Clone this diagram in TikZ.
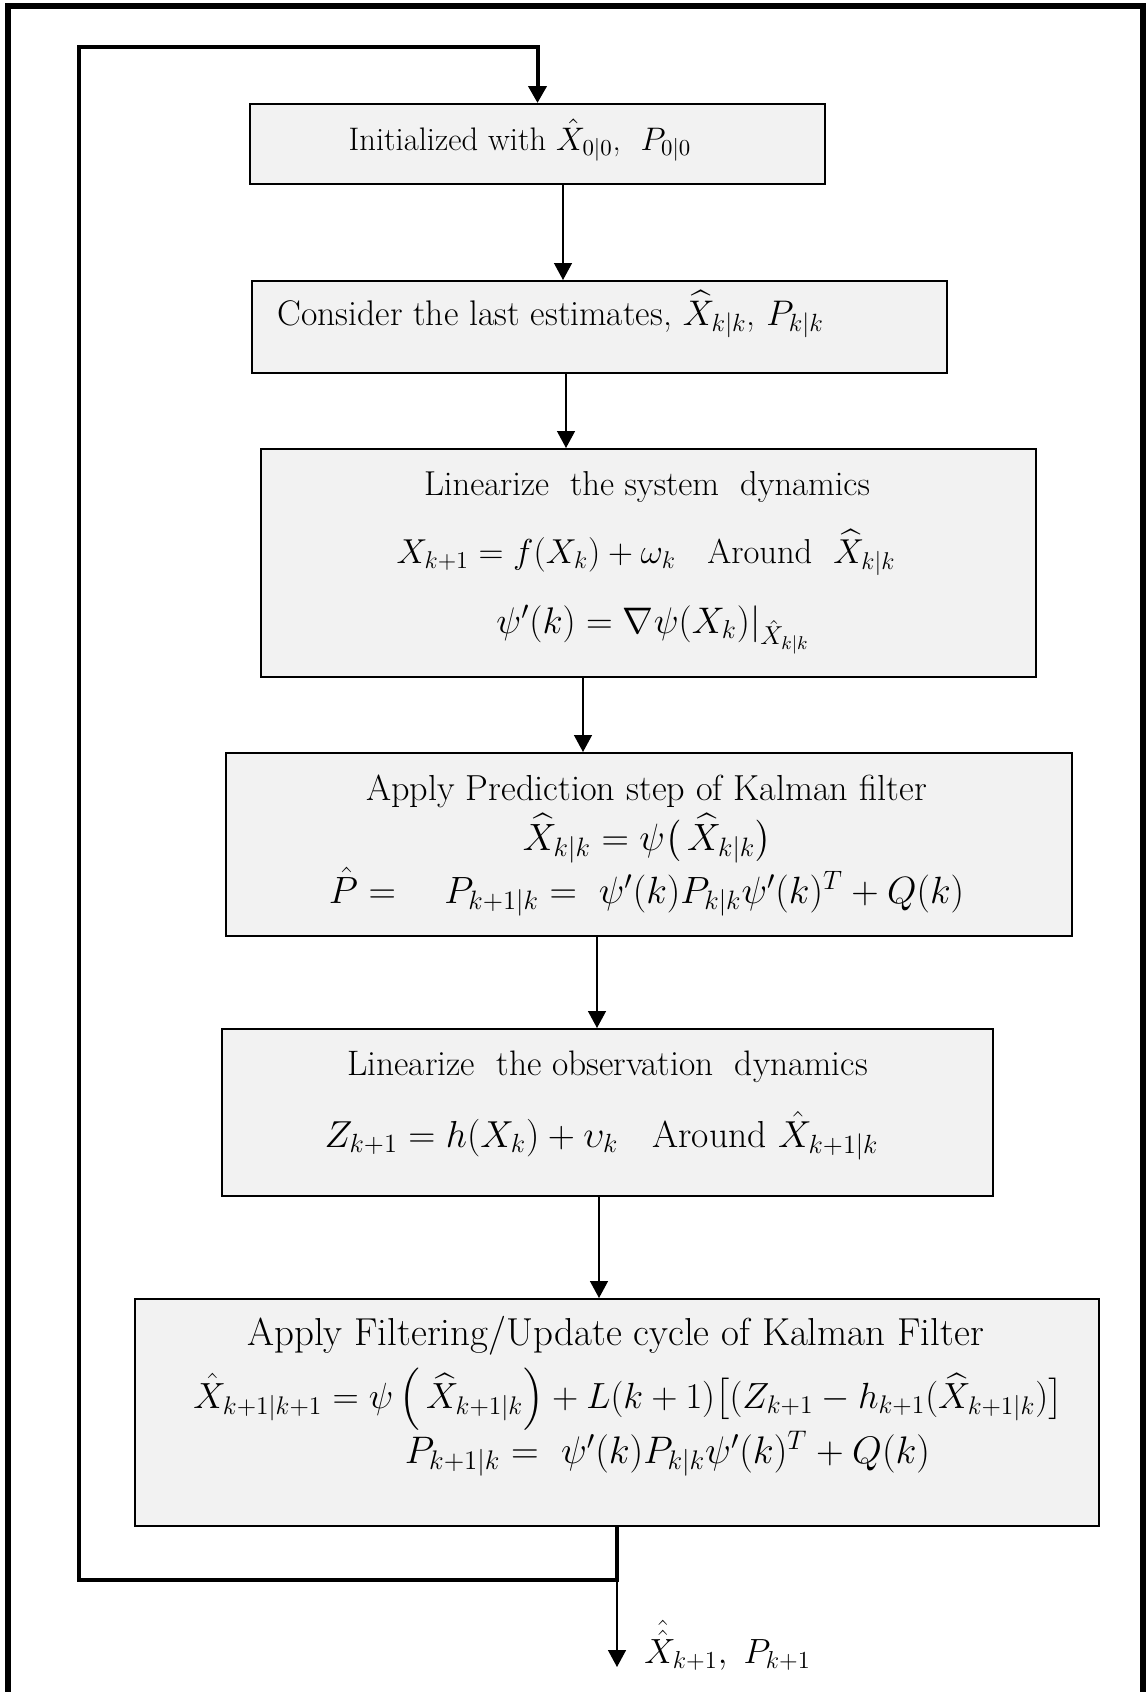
\RequirePackage{fix-cm}
\documentclass[tikz,border=0pt]{standalone}
\usepackage{amsmath}
\usepackage{fontspec}
\usetikzlibrary{arrows.meta}
\definecolor{boxfill}{HTML}{F2F2F2}

\begin{document}
\begin{tikzpicture}[x=0.5pt,y=-0.5pt,
  box/.style={draw=black, fill=boxfill, line width=1pt, inner sep=0pt},
  txt/.style={anchor=base, inner sep=0pt},
  fs/.style={font=\fontsize{#1}{20}\selectfont},
  tip/.style={-{Triangle[width=9pt,length=8.5pt]}},
  link/.style={line width=0.7pt, tip},
  loopline/.style={line width=2pt},
  frame/.style={line width=3pt}]

\useasboundingbox (0,0) rectangle (1146,1692);

% outer frame, open at the bottom
\draw[frame] (8,1692) -- (8,6) -- (1143,6) -- (1143,1692);

% process boxes
\node[box, minimum width=287.5pt, minimum height=40pt]  (b1) at (537.5,144) {};
\node[box, minimum width=347.5pt, minimum height=46pt]  (b2) at (599.5,327) {};
\node[box, minimum width=387.5pt, minimum height=114pt] (b3) at (648.5,563) {};
\node[box, minimum width=423pt,   minimum height=91.5pt] (b4) at (649,844.5) {};
\node[box, minimum width=385.5pt, minimum height=83.5pt] (b5) at (607.5,1112.5) {};
\node[box, minimum width=482pt,   minimum height=113.5pt] (b6) at (617,1412.5) {};

% box texts
\node[txt, fs=16.3] (t1) at (520,150) {Initialized with $\hat{X}_{0|0}$,\ \ $P_{0|0}$};
\node[txt, fs=17.8, anchor=base west] (t2) at (277,325) {Consider the last estimates, $\widehat{X}_{k|k}$, $P_{k|k}$};

\node[txt, fs=17.3] (t3a) at (647,495) {Linearize\ \ the system\ \ dynamics};
\node[txt, fs=17.3] (t3b) at (646,563) {$X_{k+1} = f(X_k) + \omega_k$\ \ \ Around\ \ $\widehat{X}_{k|k}$};
\node[txt, fs=18.5] (t3c) at (653,633) {$\psi'(k) = \nabla\psi(X_k)|_{\hat{X}_{k|k}}$};

\node[txt, fs=18.1] (t4a) at (646.5,800) {Apply Prediction step of Kalman filter};
\node[txt, fs=19] (t4b) at (647,850) {$\widehat{X}_{k|k} = \psi\bigl(\,\widehat{X}_{k|k}\bigr)$};
\node[txt, fs=19] (t4c) at (646.5,903) {$\hat{P} = \quad P_{k+1|k} = \ \psi'(k)P_{k|k}\psi'(k)^T + Q(k)$};

\node[txt, fs=17.7] (t5a) at (607.5,1075) {Linearize\ \ the observation\ \ dynamics};
\node[txt, fs=18.8] (t5b) at (601.5,1147) {$Z_{k+1} = h(X_k) + \upsilon_k$\ \ \ Around $\hat{X}_{k+1|k}$};

\node[txt, fs=19.5] (t6a) at (615.5,1345) {Apply Filtering/Update cycle of Kalman Filter};
\node[txt, fs=18.2] (t6b) at (628,1408) {$\hat{X}_{k+1|k+1} = \psi\left(\,\widehat{X}_{k+1|k}\right) + L(k+1)\bigl[(Z_{k+1} - h_{k+1}(\widehat{X}_{k+1|k})\bigr]$};
\node[txt, fs=19.2] (t6c) at (667.5,1463) {$P_{k+1|k} = \ \psi'(k)P_{k|k}\psi'(k)^T + Q(k)$};

% output label
\node[txt, fs=17.5, anchor=base west] (res) at (644,1663) {$\hat{\hat{X}}_{k+1},\ P_{k+1}$};

% connector columns
\coordinate (c12) at (563,0);
\coordinate (c23) at (566,0);
\coordinate (c34) at (583,0);
\coordinate (c45) at (597,0);
\coordinate (c56) at (599,0);
\coordinate (loopR) at (617,1580);
\coordinate (loopL) at (79,1580);
\coordinate (loopT) at (79,47);
\coordinate (out) at (617,1667);

\draw[link] (b1.south -| c12) -- (b2.north -| c12);
\draw[link] (b2.south -| c23) -- (b3.north -| c23);
\draw[link] (b3.south -| c34) -- (b4.north -| c34);
\draw[link] (b4.south -| c45) -- (b5.north -| c45);
\draw[link] (b5.south -| c56) -- (b6.north -| c56);

% feedback loop back to the initialisation
\draw[loopline, tip] (b6.south -| loopR) -- (loopR) -- (loopL) -- (loopT) -| (b1.north);

% final estimate
\draw[link] (loopR) -- (out);

\end{tikzpicture}
\end{document}
